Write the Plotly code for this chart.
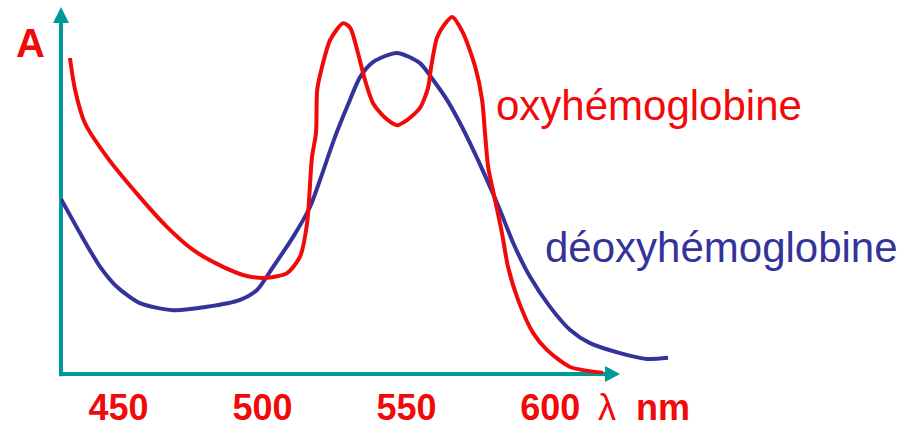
import plotly.graph_objects as go

# Wavelength (nm) and absorbance (arbitrary units, 0-100)
oxy_wl = [433.1, 434.9, 438.3, 446.0, 457.4, 466.8, 475.9, 486.3, 494.6, 501.6,
          508.5, 513.0, 515.5, 517.2, 518.6, 519.0, 520.7, 523.5, 528.0, 530.5,
          532.9, 535.6, 538.4, 542.6, 546.7, 550.2, 554.7, 557.5, 558.6, 560.6,
          563.1, 565.9, 569.7, 573.9, 576.3, 577.3, 578.4, 580.8, 583.2, 585.3,
          588.8, 594.0, 598.9, 606.9, 618.3]
oxy_abs = [86.1, 77.4, 68.4, 59.1, 48.2, 40.1, 33.8, 29.2, 26.7, 26.2,
           27.5, 31.9, 41.1, 59.1, 65.7, 77.4, 83.7, 91.0, 95.6, 94.3,
           88.3, 80.1, 73.8, 69.8, 67.8, 69.2, 72.5, 77.9, 83.7, 91.6,
           95.1, 97.3, 92.9, 83.7, 74.7, 65.7, 56.4, 47.4, 38.4, 29.2,
           20.2, 11.2, 6.5, 1.9, 0.3]

deoxy_wl = [430.0, 436.6, 443.6, 449.5, 457.4, 468.9, 480.7, 492.2, 498.1, 503.7,
            510.6, 516.5, 520.0, 525.2, 529.4, 533.9, 538.4, 546.7, 554.7, 559.3,
            564.1, 568.6, 572.1, 578.0, 582.5, 587.1, 593.0, 599.9, 606.9, 613.8,
            624.2, 633.6, 640.9]
deoxy_abs = [47.7, 38.4, 29.2, 23.7, 19.3, 17.4, 18.3, 20.2, 22.9, 29.2,
             37.3, 45.5, 52.9, 64.6, 72.8, 80.9, 85.0, 87.5, 84.7, 80.1,
             74.7, 68.4, 62.9, 52.9, 44.7, 35.7, 26.4, 18.3, 12.0, 8.4,
             5.7, 4.1, 4.4]

tick_vals = [450, 500, 550, 600]
tick_text = ["450", "500", "550", "600"]

RED = "#F00A0A"
BLUE = "#333399"
TEAL = "#009999"
FONT = "Liberation Sans, Arial, sans-serif"

fig = go.Figure()
fig.add_trace(go.Scatter(x=deoxy_wl, y=deoxy_abs, mode="lines",
                         line=dict(color=BLUE, width=4, shape="spline", smoothing=0.7),
                         cliponaxis=False, hoverinfo="skip"))
fig.add_trace(go.Scatter(x=oxy_wl, y=oxy_abs, mode="lines",
                         line=dict(color=RED, width=4, shape="spline", smoothing=0.7),
                         cliponaxis=False, hoverinfo="skip"))

# axes drawn as teal arrows (paper coordinates)
shapes = [
    dict(type="line", xref="paper", yref="paper", x0=0, x1=0, y0=-0.006, y1=0.96,
         line=dict(color=TEAL, width=4), layer="below"),
    dict(type="path", xref="paper", yref="paper",
         path="M -0.0125,0.9564 L 0.0125,0.9564 L 0,1 Z",
         fillcolor=TEAL, line=dict(color=TEAL, width=0), layer="below"),
    dict(type="line", xref="paper", yref="paper", x0=-0.003, x1=0.853, y0=0, y1=0,
         line=dict(color=TEAL, width=4), layer="below"),
    dict(type="path", xref="paper", yref="paper",
         path="M 0.8513,0.0218 L 0.8513,-0.0218 L 0.8748,0 Z",
         fillcolor=TEAL, line=dict(color=TEAL, width=0), layer="below"),
]

annotations = [
    dict(text="<b>A</b>", x=-0.047, y=0.902, xref="paper", yref="paper",
         showarrow=False, font=dict(family=FONT, size=40, color=RED),
         xanchor="center", yanchor="middle"),
    dict(text="oxyhémoglobine", x=0.678, y=0.731, xref="paper", yref="paper",
         showarrow=False, font=dict(family=FONT, size=42, color=RED),
         xanchor="left", yanchor="middle"),
    dict(text="déoxyhémoglobine", x=0.755, y=0.344, xref="paper", yref="paper",
         showarrow=False, font=dict(family=FONT, size=42, color=BLUE),
         xanchor="left", yanchor="middle"),
    dict(text="λ  <b>nm</b>", x=0.837, y=-0.090, xref="paper", yref="paper",
         showarrow=False, font=dict(family=FONT, size=36, color=RED),
         xanchor="left", yanchor="middle"),
]

fig.update_layout(
    width=906, height=428,
    margin=dict(l=61, r=206, t=7, b=54, autoexpand=False),
    paper_bgcolor="white", plot_bgcolor="rgba(0,0,0,0)",
    showlegend=False,
    shapes=shapes, annotations=annotations,
    xaxis=dict(range=[430, 652], showline=False, showgrid=False, zeroline=False,
               tickvals=tick_vals, ticktext=tick_text, ticks="",
               tickfont=dict(family=FONT, size=36, color=RED, weight="bold"),
               ticklabelstandoff=9, automargin=False, fixedrange=True),
    yaxis=dict(range=[0, 100], visible=False, automargin=False, fixedrange=True),
)

fig.write_html("out.html",
               config={"displayModeBar": False, "staticPlot": True},
               post_script="document.body.style.margin='0';document.body.style.overflow='hidden';")
